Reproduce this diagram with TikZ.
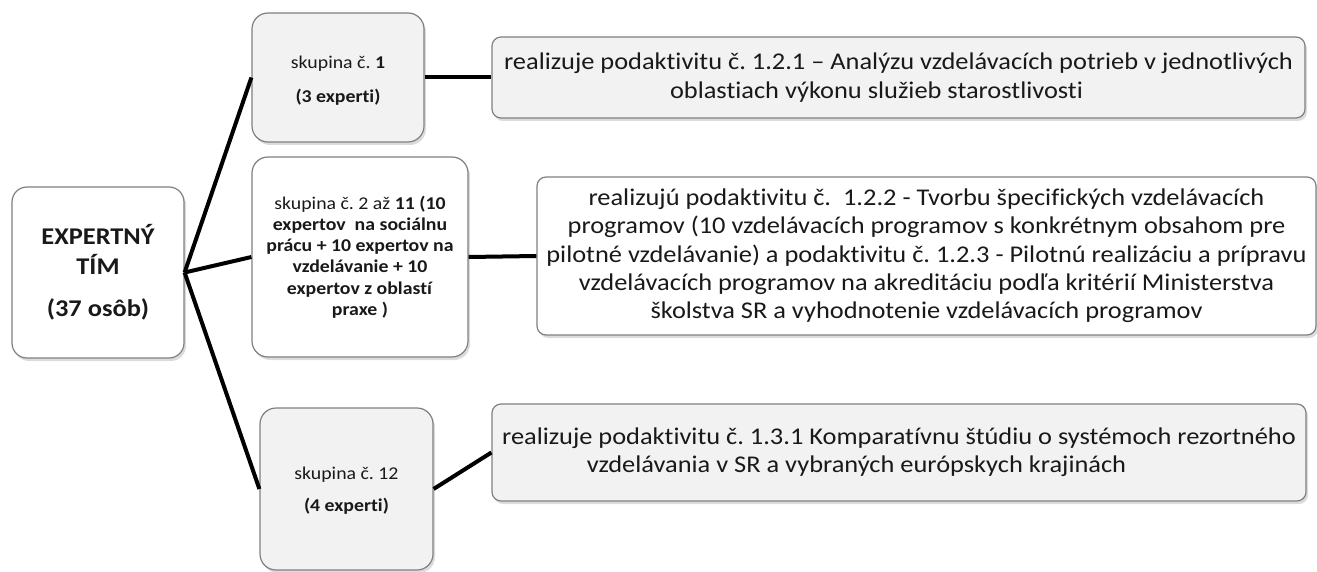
\documentclass[tikz,border=0pt]{standalone}
\usepackage{fontspec}
\setmainfont{Carlito}[Ligatures=NoCommon, FakeStretch=1.1]
\usetikzlibrary{shadows}
\frenchspacing
\begin{document}
\begin{tikzpicture}[x=1pt,y=-1pt,
  box/.style={draw=black!50, line width=1.2pt, rounded corners=#1, inner sep=0pt,
    align=center, text=black!90,
    drop shadow={opacity=0.28, shadow xshift=2pt, shadow yshift=-3pt}},
  box/.default=14pt,
  rootbox/.style={box=15pt, fill=white, font=\fontsize{24}{30}\selectfont\bfseries},
  grpbox/.style={box=16pt, font=\fontsize{18}{21.2}\selectfont},
  descbox/.style={box=9pt, font=\fontsize{24}{28.3}\selectfont},
  grayfill/.style={fill=black!5},
  link/.style={line width=4pt, black}
]
\useasboundingbox (0,0) rectangle (1317,572);

\node[rootbox, minimum width=172pt, minimum height=171pt] (root) at (98,272.5)
  {EXPERTNÝ\\TÍM\\[12pt](37 osôb)};

\node[grpbox, grayfill, minimum width=172pt, minimum height=129pt] (g1) at (338,77.5)
  {\rule{0pt}{19pt}skupina č. \textbf{1}\\[13pt]\textbf{(3 experti)}};

\node[grpbox, fill=white, minimum width=216pt, minimum height=200pt] (g2) at (360,257)
  {skupina č. 2 až \textbf{11 (10}\\\textbf{expertov \ na sociálnu}\\\textbf{prácu + 10 expertov na}\\\textbf{vzdelávanie + 10}\\\textbf{expertov z oblastí}\\\textbf{praxe )}};

\node[grpbox, grayfill, minimum width=173pt, minimum height=162pt] (g12) at (346.5,489)
  {\rule{0pt}{16pt}skupina č. 12\\[11pt]\textbf{(4 experti)}};

\node[descbox, grayfill, minimum width=813pt, minimum height=81pt] (d1) at (898.5,77.5)
  {realizuje podaktivitu č. 1.2.1 – Analýzu vzdelávacích potrieb v jednotlivých\\oblastiach výkonu služieb starostlivosti\hspace*{44pt}};

\node[descbox, fill=white, minimum width=779pt, minimum height=158pt] (d2) at (926.5,256)
  {realizujú podaktivitu č. \ 1.2.2 - Tvorbu špecifických vzdelávacích\\programov (10 vzdelávacích programov s konkrétnym obsahom pre\\pilotné vzdelávanie) a podaktivitu č. 1.2.3 - Pilotnú realizáciu a prípravu\\vzdelávacích programov na akreditáciu podľa kritérií Ministerstva\\školstva SR a vyhodnotenie vzdelávacích programov};

\node[descbox, grayfill, minimum width=814pt, minimum height=97pt] (d3) at (899,452.5)
  {realizuje podaktivitu č. 1.3.1 Komparatívnu štúdiu o systémoch rezortného\\vzdelávania v SR a vybraných európskych krajinách\hspace*{85pt}};

\draw[link] (root.east) -- (g1.west);
\draw[link] (root.east) -- (g2.west);
\draw[link] (root.east) -- (g12.west);
\draw[link] (g1.east) -- (d1.west);
\draw[link] (g2.east) -- (d2.west);
\draw[link] (g12.east) -- (d3.west);
\end{tikzpicture}
\end{document}
